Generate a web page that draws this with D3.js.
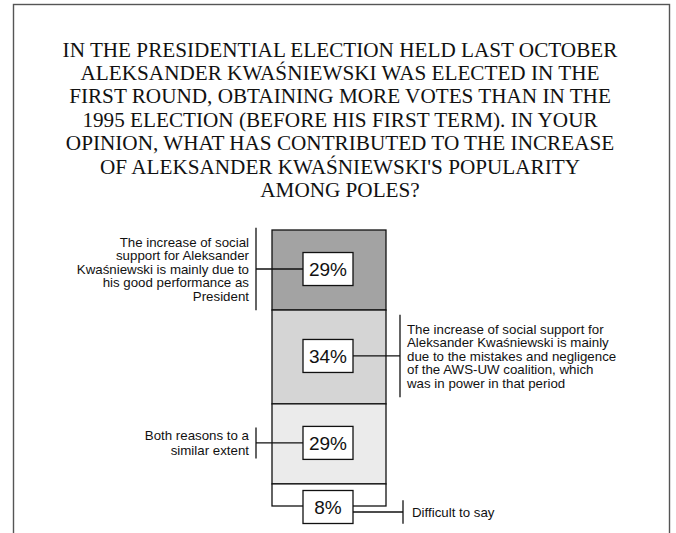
<!DOCTYPE html>
<html>
<head>
<meta charset="utf-8">
<script src="https://cdn.jsdelivr.net/npm/d3@7"></script>
<style>
  html, body { margin: 0; padding: 0; background: #fff; }
  svg { display: block; }
</style>
</head>
<body>
<svg id="chart" width="676" height="533"></svg>
<script>
// Survey question (title lines)
const titleLines = [
  "IN THE PRESIDENTIAL ELECTION HELD LAST OCTOBER",
  "ALEKSANDER KWAŚNIEWSKI WAS ELECTED IN THE",
  "FIRST ROUND, OBTAINING MORE VOTES THAN IN THE",
  "1995 ELECTION (BEFORE HIS FIRST TERM). IN YOUR",
  "OPINION, WHAT HAS CONTRIBUTED TO THE INCREASE",
  "OF ALEKSANDER KWAŚNIEWSKI'S POPULARITY",
  "AMONG POLES?"
];

// Answers, top to bottom of the stacked bar
const answers = [
  ["The increase of social", "support for Aleksander", "Kwaśniewski is mainly due to", "his good performance as", "President"],
  ["The increase of social support for", "Aleksander Kwaśniewski is mainly", "due to the mistakes and negligence", "of the AWS-UW coalition, which", "was in power in that period"],
  ["Both reasons to a", "similar extent"],
  ["Difficult to say"]
];
const shares = [29, 34, 29, 8];
const labelSides = ["left", "right", "left", "right"];
const fills = ["#a3a3a3", "#d5d5d5", "#ebebeb", "#ffffff"];

const svg = d3.select("#chart");

// outer frame
svg.append("rect")
  .attr("x", 13.5).attr("y", 4.5)
  .attr("width", 656).attr("height", 560)
  .attr("fill", "none").attr("stroke", "#555").attr("stroke-width", 1.4);

// title
svg.append("text")
  .attr("font-family", "'Liberation Serif', 'Times New Roman', serif")
  .attr("font-size", 21.2)
  .attr("fill", "#111")
  .attr("text-anchor", "middle")
  .selectAll("tspan")
  .data(titleLines)
  .join("tspan")
  .attr("x", 340)
  .attr("y", (d, i) => 56.5 + i * 23.4)
  .text(d => d);

// stacked bar
const y = d3.scaleLinear().domain([0, 100]).range([230, 506]);
const barX = 272, barW = 114, barCx = barX + barW / 2 - 1;
const boxW = 50, boxH = 33;

let acc = 0;
const segs = shares.map((v, i) => {
  const s = { i, v, y0: acc, y1: acc + v, side: labelSides[i], lines: answers[i], fill: fills[i] };
  acc += v;
  return s;
});

svg.append("g").selectAll("rect")
  .data(segs)
  .join("rect")
  .attr("x", barX)
  .attr("y", d => y(d.y0))
  .attr("width", barW)
  .attr("height", d => y(d.y1) - y(d.y0))
  .attr("fill", d => d.fill)
  .attr("stroke", "#111")
  .attr("stroke-width", 1.3);

const lineH = 13.5;
const g = svg.append("g")
  .attr("font-family", "'Liberation Sans', Arial, sans-serif");

segs.forEach(s => {
  const segH = y(s.y1) - y(s.y0);
  // value box sits in the middle of the segment, or across the bar's bottom edge when the segment is too thin
  const cy = segH > boxH + 6 ? (y(s.y0) + y(s.y1)) / 2 - 1 : y(s.y1) + 1;
  const leaderY = segH > boxH + 6 ? cy : cy + 5;
  const n = s.lines.length;
  const half = n * lineH / 2 + (n > 2 ? 7.5 : n === 2 ? 2 : 5);

  const left = s.side === "left";
  const bx = left ? 256 : (n > 2 ? 400 : 403);
  const x0 = left ? barCx - boxW / 2 : barCx + boxW / 2;

  // leader + bracket
  g.append("line")
    .attr("x1", x0).attr("x2", bx)
    .attr("y1", leaderY).attr("y2", leaderY)
    .attr("stroke", "#111").attr("stroke-width", 1.3);
  g.append("line")
    .attr("x1", bx).attr("x2", bx)
    .attr("y1", leaderY - half).attr("y2", leaderY + half)
    .attr("stroke", "#111").attr("stroke-width", 1.3);

  // value box
  g.append("rect")
    .attr("x", barCx - boxW / 2).attr("y", cy - boxH / 2)
    .attr("width", boxW).attr("height", boxH)
    .attr("fill", "#fff").attr("stroke", "#111").attr("stroke-width", 1.3);
  g.append("text")
    .attr("x", barCx).attr("y", cy + 7)
    .attr("text-anchor", "middle")
    .attr("font-size", 19)
    .attr("fill", "#111")
    .text(s.v + "%");

  // answer text
  const lh = n === 2 ? 15 : lineH;
  const tx = left ? bx - 7 : bx + (n > 2 ? 7 : 9);
  const firstBase = leaderY - (n - 1) * lh / 2 + 4.7;
  g.append("text")
    .attr("text-anchor", left ? "end" : "start")
    .attr("font-size", 13.3)
    .attr("fill", "#111")
    .selectAll("tspan")
    .data(s.lines)
    .join("tspan")
    .attr("x", tx)
    .attr("y", (d, k) => firstBase + k * lh)
    .text(d => d);
});
</script>
</body>
</html>
